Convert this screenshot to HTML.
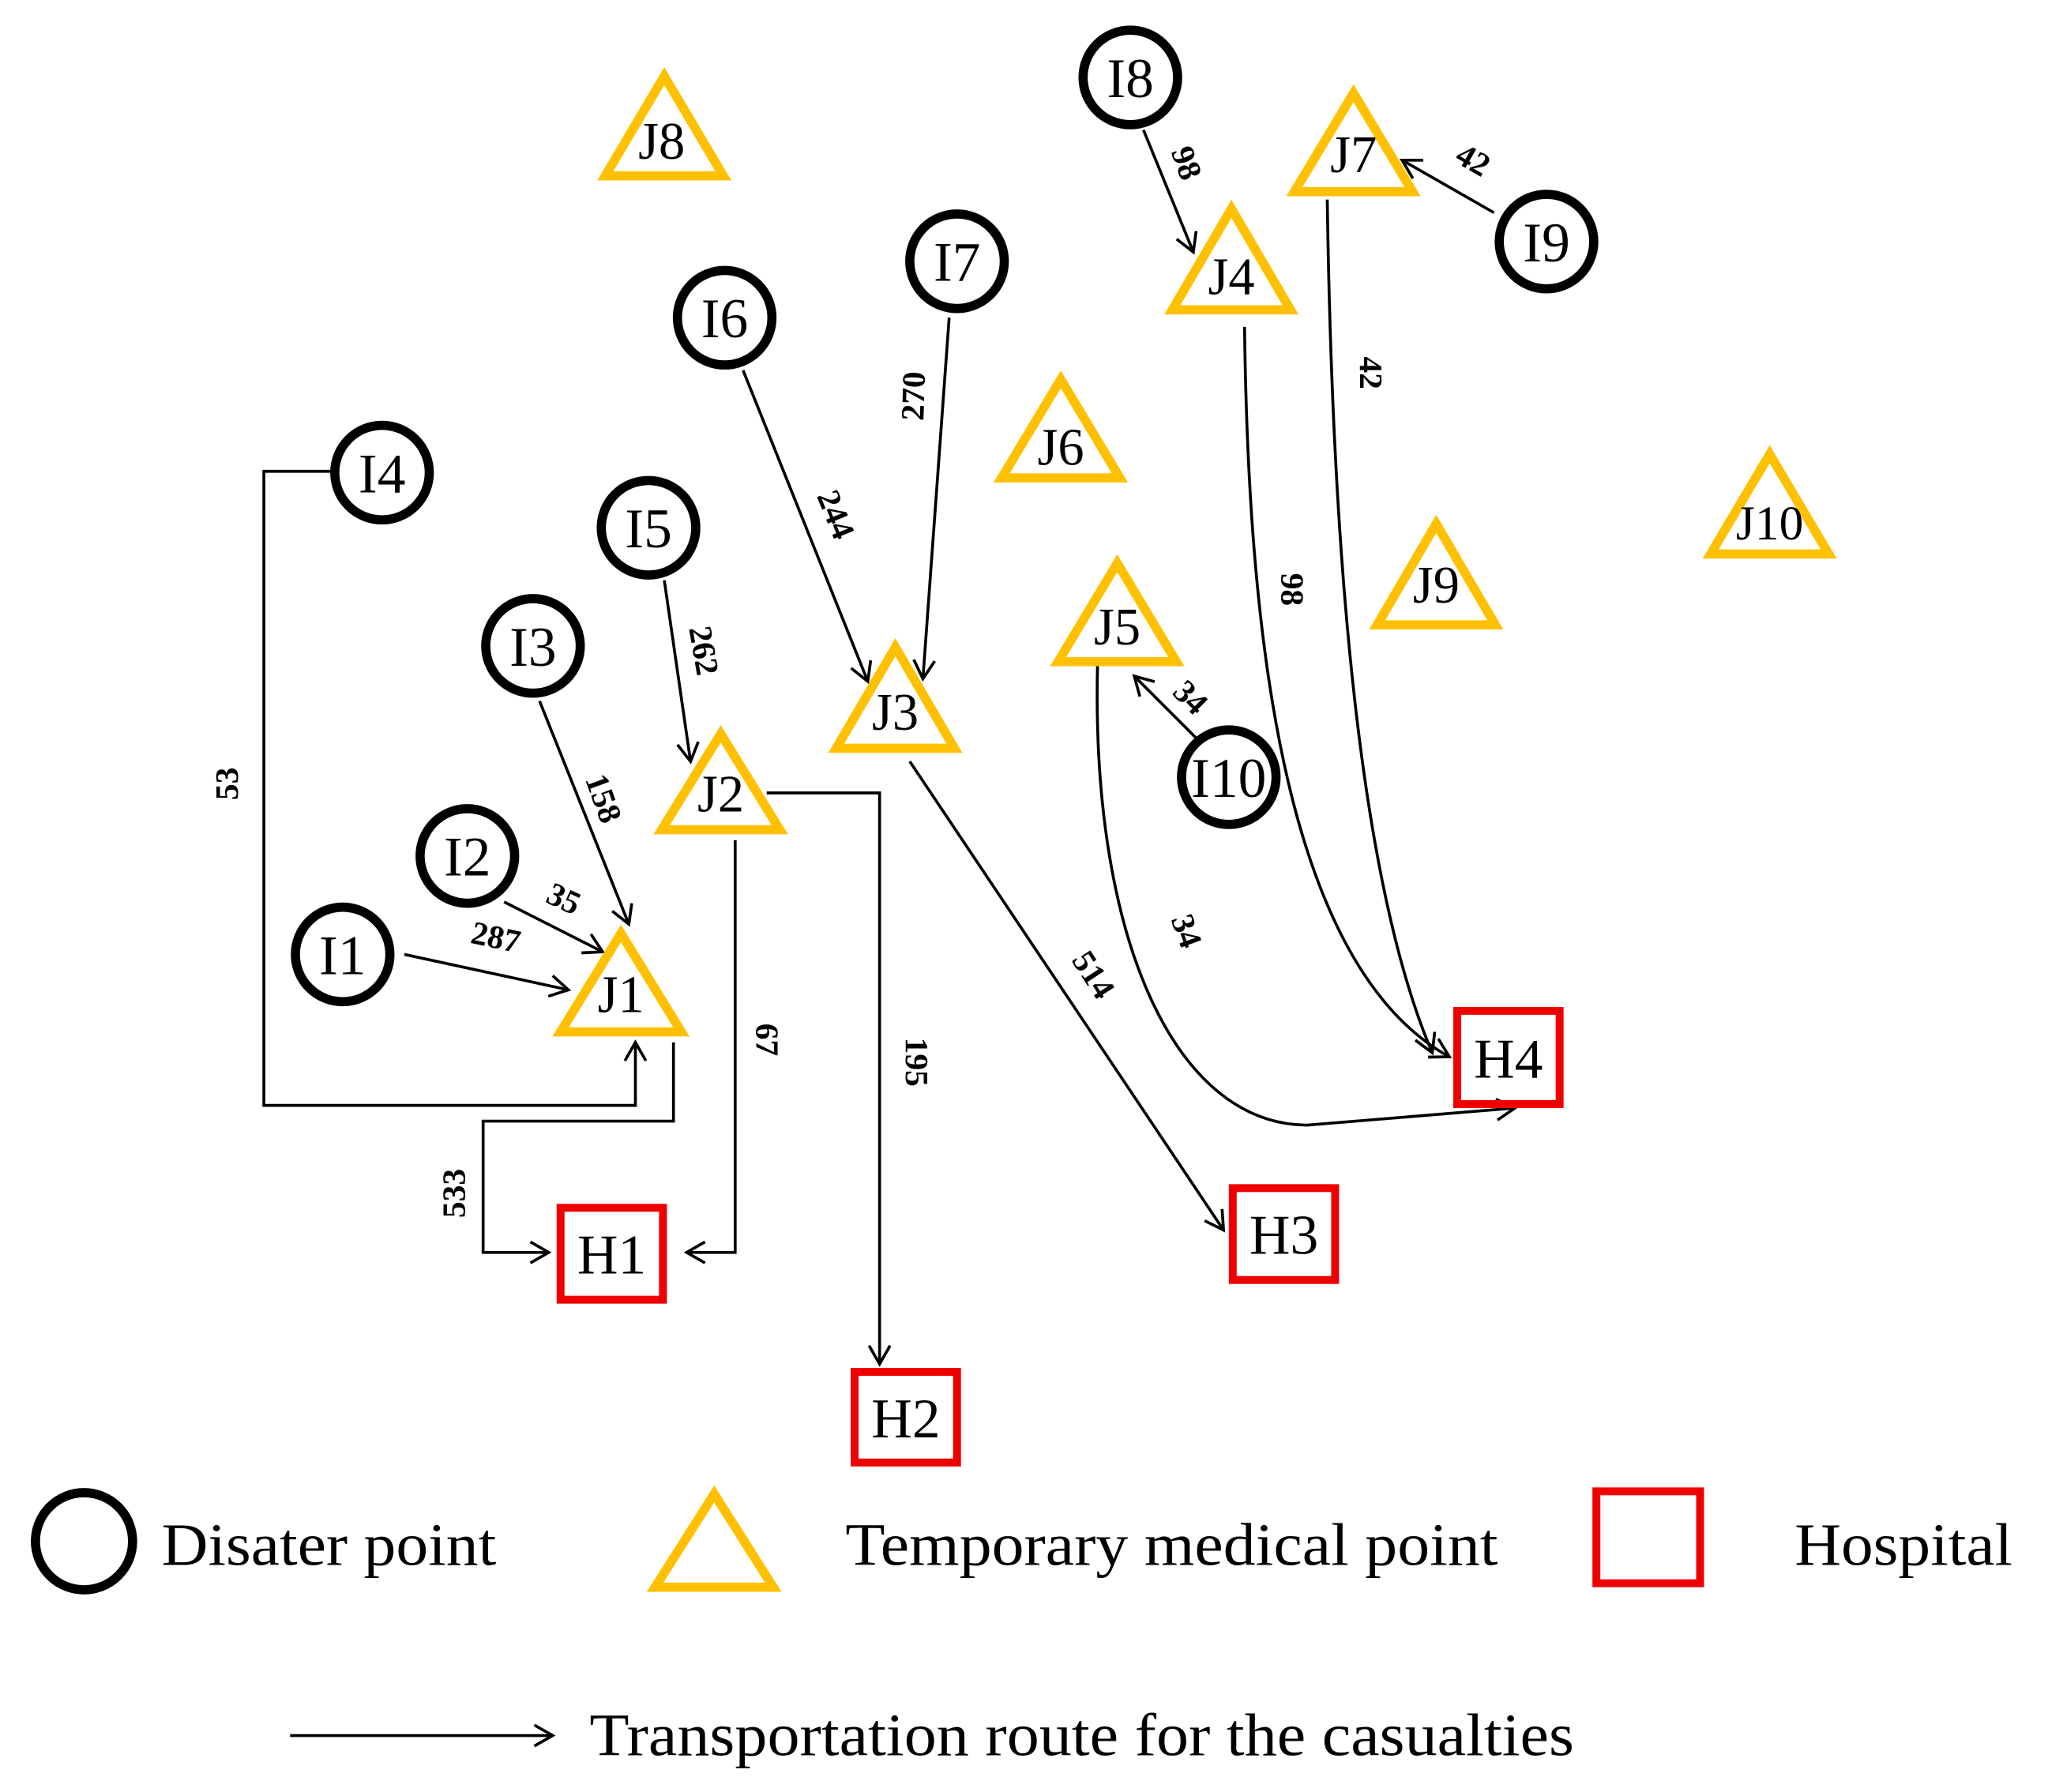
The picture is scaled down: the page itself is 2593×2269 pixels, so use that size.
<!DOCTYPE html>
<html><head><meta charset="utf-8"><style>
html,body{margin:0;padding:0;background:#fff}
svg{display:block}
text{font-family:"Liberation Serif",serif;fill:#000}
.n{font-size:43px;text-anchor:middle}
.e{font-size:25px;font-weight:bold;text-anchor:middle}
.c{fill:none;stroke:#000;stroke-width:7}
.t{fill:none;stroke:#FFC000;stroke-width:7;stroke-linejoin:miter}
.h{fill:none;stroke:#EE0000;stroke-width:6}
.l{fill:none;stroke:#000;stroke-width:2.2}
</style></head><body>
<svg width="2593" height="2269" viewBox="0 0 1560 1365" preserveAspectRatio="none" xmlns="http://www.w3.org/2000/svg">
<defs>
<marker id="a" markerWidth="20" markerHeight="20" refX="17" refY="10" orient="auto" markerUnits="userSpaceOnUse">
<path d="M3,2 L17,10 L3,18" fill="none" stroke="#000" stroke-width="2.2"/>
</marker>
</defs>
<g transform="translate(-4,-3)">
<!-- edges -->
<line x1="312" y1="730" x2="437" y2="757" class="l" marker-end="url(#a)"/>
<line x1="388" y1="690" x2="463" y2="728" class="l" marker-end="url(#a)"/>
<line x1="415" y1="537" x2="483" y2="707" class="l" marker-end="url(#a)"/>
<polyline points="258,362 205,362 205,845 488,845 488,797" class="l" marker-end="url(#a)"/>
<polyline points="517,797 517,857 372,857 372,957 422,957" class="l" marker-end="url(#a)"/>
<line x1="510" y1="445" x2="530" y2="583" class="l" marker-end="url(#a)"/>
<polyline points="564,643 564,957 527,957" class="l" marker-end="url(#a)"/>
<polyline points="588,607 674,607 674,1042" class="l" marker-end="url(#a)"/>
<line x1="570" y1="285" x2="665" y2="522" class="l" marker-end="url(#a)"/>
<line x1="727" y1="245" x2="707" y2="520" class="l" marker-end="url(#a)"/>
<line x1="697" y1="583" x2="936" y2="940" class="l" marker-end="url(#a)"/>
<line x1="875" y1="102" x2="913" y2="195" class="l" marker-end="url(#a)"/>
<line x1="1142" y1="165" x2="1072" y2="125" class="l" marker-end="url(#a)"/>
<line x1="915" y1="565" x2="868" y2="518" class="l" marker-end="url(#a)"/>
<path d="M952,252 C955,500 985,740 1108,808" class="l" marker-end="url(#a)"/>
<path d="M1015,155 C1020,500 1050,700 1095,805" class="l" marker-end="url(#a)"/>
<path d="M840,510 C835,720 900,860 1000,860 L1158,847" class="l" marker-end="url(#a)"/>

<!-- edge labels -->
<text class="e" transform="translate(380,725) rotate(12)">287</text>
<text class="e" transform="translate(430,695) rotate(25)">35</text>
<text class="e" transform="translate(456,614) rotate(70)">158</text>
<text class="e" transform="translate(185,600) rotate(-90)">53</text>
<text class="e" transform="translate(358,912) rotate(-90)">533</text>
<text class="e" transform="translate(532,500) rotate(80)">262</text>
<text class="e" transform="translate(580,795) rotate(90)">67</text>
<text class="e" transform="translate(694,812) rotate(90)">195</text>
<text class="e" transform="translate(633,398) rotate(68)">244</text>
<text class="e" transform="translate(708,305) rotate(-88)">270</text>
<text class="e" transform="translate(830,750) rotate(57)">514</text>
<text class="e" transform="translate(900,130) rotate(70)">98</text>
<text class="e" transform="translate(1122,132) rotate(30)">42</text>
<text class="e" transform="translate(905,540) rotate(45)">34</text>
<text class="e" transform="translate(980,452) rotate(90)">98</text>
<text class="e" transform="translate(1040,287) rotate(90)">42</text>
<text class="e" transform="translate(900,715) rotate(70)">34</text>

<!-- circles -->
<circle cx="265" cy="730" r="36" class="c"/><text class="n" x="265" y="745">I1</text>
<circle cx="360" cy="655" r="36" class="c"/><text class="n" x="360" y="670">I2</text>
<circle cx="410" cy="495" r="36" class="c"/><text class="n" x="410" y="510">I3</text>
<circle cx="295" cy="363" r="36" class="c"/><text class="n" x="295" y="378">I4</text>
<circle cx="498" cy="405" r="36" class="c"/><text class="n" x="498" y="420">I5</text>
<circle cx="556" cy="245" r="36" class="c"/><text class="n" x="556" y="260">I6</text>
<circle cx="733" cy="202" r="36" class="c"/><text class="n" x="733" y="217">I7</text>
<circle cx="865" cy="62" r="36" class="c"/><text class="n" x="865" y="77">I8</text>
<circle cx="1182" cy="187" r="36" class="c"/><text class="n" x="1182" y="202">I9</text>
<circle cx="940" cy="595" r="36" class="c"/><text class="n" x="940" y="610">I10</text>

<!-- triangles -->
<polygon class="t" points="477,714 431,789 523,789"/><text class="n" x="477" y="774" style="font-size:40px">J1</text>
<polygon class="t" points="553,562 508,635 598,635"/><text class="n" x="553" y="621" style="font-size:40px">J2</text>
<polygon class="t" points="686,496 641,573 731,573"/><text class="n" x="686" y="559" style="font-size:40px">J3</text>
<polygon class="t" points="942,162 897,239 987,239"/><text class="n" x="942" y="227" style="font-size:40px">J4</text>
<polygon class="t" points="855,432 810,507 900,507"/><text class="n" x="855" y="494" style="font-size:40px">J5</text>
<polygon class="t" points="812,292 767,367 857,367"/><text class="n" x="812" y="357" style="font-size:40px">J6</text>
<polygon class="t" points="1035,74 990,149 1080,149"/><text class="n" x="1035" y="134" style="font-size:40px">J7</text>
<polygon class="t" points="510,61 465,137 555,137"/><text class="n" x="508" y="124" style="font-size:40px">J8</text>
<polygon class="t" points="1098,402 1053,479 1143,479"/><text class="n" x="1098" y="462" style="font-size:40px">J9</text>
<polygon class="t" points="1352,349 1307,425 1397,425"/><text class="n" x="1352" y="414" style="font-size:37px">J10</text>

<!-- hospitals -->
<rect class="h" x="431" y="923" width="78" height="70"/><text class="n" x="470" y="973">H1</text>
<rect class="h" x="655" y="1048" width="78" height="69"/><text class="n" x="694" y="1098">H2</text>
<rect class="h" x="943" y="908" width="78" height="70"/><text class="n" x="982" y="958">H3</text>
<rect class="h" x="1114" y="773" width="78" height="71"/><text class="n" x="1153" y="824">H4</text>

<!-- legend -->
<circle cx="68" cy="1177" r="37" class="c"/>
<text x="127" y="1195" style="font-size:46px" textLength="255" lengthAdjust="spacingAndGlyphs">Disater point</text>
<polygon class="t" points="548,1141 503,1212 593,1212"/>
<text x="648" y="1195" style="font-size:46px" textLength="497" lengthAdjust="spacingAndGlyphs">Temporary medical point</text>
<rect x="1220" y="1139" width="79" height="70" class="h"/>
<text x="1371" y="1195" style="font-size:46px" textLength="166" lengthAdjust="spacingAndGlyphs">Hospital</text>
<line x1="225" y1="1325" x2="425" y2="1325" class="l" marker-end="url(#a)"/>
<text x="453" y="1340" style="font-size:46px" textLength="750" lengthAdjust="spacingAndGlyphs">Transportation route for the casualties</text>
</g>
</svg>
</body></html>
